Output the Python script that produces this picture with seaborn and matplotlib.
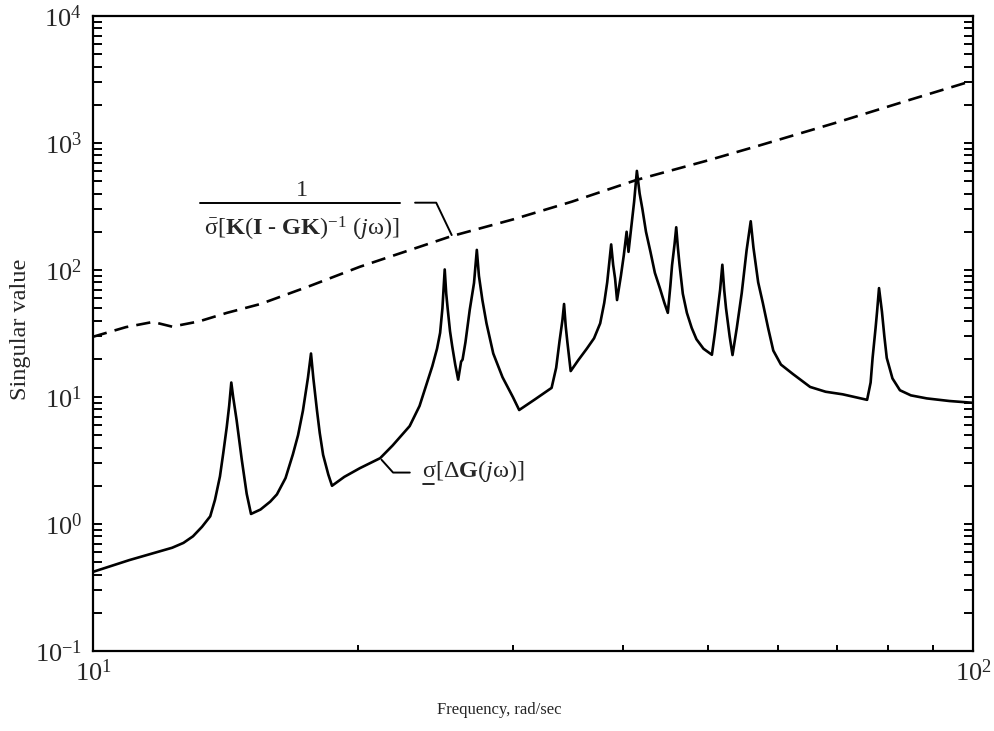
import matplotlib
matplotlib.use("Agg")
import matplotlib.pyplot as plt
import numpy as np
import pandas as pd
import seaborn as sns

# Lower bound on the uncertainty: smallest singular value of Delta G(jw)
freq_dg = [10.0, 11.0, 12.3, 12.67, 12.99, 13.3, 13.59, 13.76, 13.94, 14.06,
           14.19, 14.28, 14.36, 14.43, 14.56, 14.76, 14.95, 15.12,
           15.5, 15.9, 16.18, 16.55, 16.87, 17.1, 17.32, 17.55, 17.69,
           17.8, 17.97, 18.1, 18.26, 18.51, 18.69,
           19.3, 20.1, 21.2, 21.9, 22.9, 23.5, 23.9, 24.3, 24.6, 24.8, 24.95, 25.1,
           25.2, 25.3, 25.45, 25.6, 25.8, 26.0,
           26.2, 26.3, 26.5, 26.8, 27.1, 27.3,
           27.45, 27.7, 28.0, 28.5, 29.2, 30.0, 30.5,
           31.8, 33.2, 33.6, 33.9, 34.15, 34.3, 34.45, 34.6, 34.9,
           35.6, 36.4, 37.1, 37.7, 38.1, 38.4, 38.8, 39.0, 39.2, 39.4,
           39.8, 40.1, 40.4, 40.6, 40.9, 41.2, 41.5,
           41.8, 42.1, 42.5, 43.0, 43.5, 44.1, 44.6, 45.0,
           45.3, 45.5, 45.8, 46.0, 46.2, 46.4, 46.8, 47.3, 47.9, 48.5, 49.4, 50.5,
           50.9, 51.2, 51.6, 51.9, 52.15, 52.4, 52.9, 53.3,
           53.9, 54.6, 55.3, 55.9, 56.3, 57.0, 57.7, 58.5, 59.3, 60.5, 62.4,
           65.3, 68.0, 71.1, 75.8,
           76.5, 76.9, 77.5, 77.8, 78.2, 78.8, 79.3, 79.8, 81.0, 82.6, 85.0,
           88.6, 94.0, 100.0]
sv_dg = [0.42, 0.52, 0.65, 0.71, 0.80, 0.95, 1.15, 1.55, 2.37, 3.6,
         5.8, 8.5, 13.0, 10.0, 6.6, 3.2, 1.73, 1.2,
         1.3, 1.5, 1.71, 2.3, 3.53, 5.0, 7.8, 14.2, 22.0,
         14.0, 7.8, 5.2, 3.5, 2.45, 2.0,
         2.35, 2.75, 3.3, 4.15, 5.9, 8.5, 12.2, 17.5, 24.0, 32.0, 50.0, 101.0,
         65.0, 49.0, 33.0, 25.0, 18.0, 13.7,
         19.0, 19.7, 27.0, 48.7, 79.0, 144.0,
         90.0, 58.0, 38.0, 22.0, 14.3, 10.0, 7.9,
         9.6, 11.8, 17.0, 27.7, 40.0, 54.0, 36.0, 27.0, 16.0,
         19.5, 24.0, 29.0, 38.0, 55.0, 80.0, 159.0, 110.0, 85.5, 58.0,
         90.0, 130.0, 200.0, 139.0, 220.0, 344.0, 603.0,
         400.0, 303.0, 200.0, 139.0, 95.0, 71.0, 55.0, 46.0,
         75.0, 109.0, 160.0, 217.0, 150.0, 110.0, 65.0, 46.0, 35.0, 28.5, 24.0, 21.5,
         32.0, 45.0, 70.0, 110.0, 70.0, 50.0, 30.0, 21.4,
         35.0, 65.8, 143.0, 242.0, 150.0, 80.0, 55.0, 35.0, 23.2, 18.0, 15.2,
         12.0, 11.0, 10.5, 9.5,
         13.0, 20.4, 35.0, 46.9, 72.0, 47.0, 30.0, 20.3, 14.0, 11.3, 10.3,
         9.75, 9.3, 9.0]

# Robustness bound: 1 / max singular value of K(I - GK)^-1
freq_inv = [10.0, 10.9, 11.7, 12.3, 13.2, 14.2, 15.5, 17.65, 20.1, 25.5,
            30.0, 35.0, 41.5, 50.0, 57.3, 70.0, 85.0, 100.0]
sv_inv = [29.8, 35.5, 39.0, 35.8, 39.4, 46.0, 54.0, 75.0, 106.0, 184.0,
          250.0, 345.0, 513.0, 730.0, 960.0, 1450.0, 2200.0, 3100.0]

x_label = "Frequency, rad/sec"
y_label = "Singular value"

sns.set_style("ticks")
plt.rcParams["font.family"] = ["Liberation Serif", "DejaVu Serif"]
plt.rcParams["mathtext.fontset"] = "custom"
plt.rcParams["mathtext.rm"] = "Liberation Serif"
plt.rcParams["mathtext.it"] = "Liberation Serif:italic"
plt.rcParams["mathtext.bf"] = "Liberation Serif:bold"
plt.rcParams["axes.edgecolor"] = "black"
plt.rcParams["axes.unicode_minus"] = False

W, H = 995, 731
fig = plt.figure(figsize=(W / 100, H / 100), dpi=100)
fig.patch.set_facecolor("white")
ax = fig.add_axes([93 / W, 1 - 651 / H, 880 / W, 635 / H])

df_dg = pd.DataFrame({"freq": freq_dg, "sv": sv_dg})
df_inv = pd.DataFrame({"freq": freq_inv, "sv": sv_inv})

sns.lineplot(data=df_dg, x="freq", y="sv", ax=ax, color="black",
             linewidth=1.9, estimator=None, sort=False)
sns.lineplot(data=df_inv, x="freq", y="sv", ax=ax, color="black",
             linewidth=1.9, estimator=None, sort=False,
             linestyle=(0, (5.4, 3.1)))

ax.set_xscale("log")
ax.set_yscale("log")
ax.set_xlim(10, 100)
ax.set_ylim(0.1, 1e4)

for s in ax.spines.values():
    s.set_linewidth(1.6)
    s.set_color("black")

ax.tick_params(which="both", direction="in", top=False, right=True,
               color="black", width=1.4, labelsize=19)
ax.tick_params(axis="y", which="both", length=6.5, pad=8)
ax.tick_params(axis="x", which="both", length=4, pad=6)
ax.yaxis.set_minor_formatter(matplotlib.ticker.NullFormatter())
ax.xaxis.set_minor_formatter(matplotlib.ticker.NullFormatter())

ax.set_xlabel(x_label, fontsize=12)
ax.set_ylabel(y_label, fontsize=17.5)
ax.xaxis.set_label_coords(0.462, -0.080)
ax.yaxis.set_label_coords(-0.070, 0.506)

# Annotation: 1 / sigma_bar[K(I - GK)^-1 (jw)]
lw_ann = 1.4
fs_ann = 17.5
ax.plot([0.1216, 0.3489], [0.706, 0.706], color="black", lw=lw_ann,
        transform=ax.transAxes, clip_on=False)
ax.text(0.2375, 0.7165, "1", transform=ax.transAxes, ha="center",
        va="baseline", fontsize=fs_ann)
ax.text(0.2375, 0.655,
        r"$\bar{\mathrm{\sigma}}$[$\mathbf{K}$($\mathbf{I}$ - $\mathbf{GK}$)$^{-1}$ ($j$ω)]",
        transform=ax.transAxes, ha="center", va="baseline", fontsize=fs_ann)
ax.plot([0.366, 0.390, 0.4076], [0.706, 0.706, 0.655], color="black",
        lw=lw_ann, transform=ax.transAxes, clip_on=False)

# Annotation: underlined sigma[Delta G(jw)]
ax.plot([0.328, 0.341, 0.360], [0.301, 0.281, 0.281], color="black",
        lw=lw_ann, transform=ax.transAxes, clip_on=False)
base_y = 0.274
t_sig = ax.text(0.374, base_y, "σ", transform=ax.transAxes, ha="left",
                va="baseline", fontsize=fs_ann)
fig.canvas.draw()
renderer = fig.canvas.get_renderer()
bb = t_sig.get_window_extent(renderer)
inv = ax.transAxes.inverted()
x0, _ = inv.transform((bb.x0, 0))
x1, _ = inv.transform((bb.x1, 0))
ax.plot([x0 + 0.001, x1 - 0.001], [base_y - 7 / 635, base_y - 7 / 635],
        color="black", lw=1.2, transform=ax.transAxes, clip_on=False)
ax.text(x1, base_y, r"[Δ$\mathbf{G}$($j$ω)]", transform=ax.transAxes,
        ha="left", va="baseline", fontsize=fs_ann)

fig.savefig("out.png", dpi=100, facecolor="white")
